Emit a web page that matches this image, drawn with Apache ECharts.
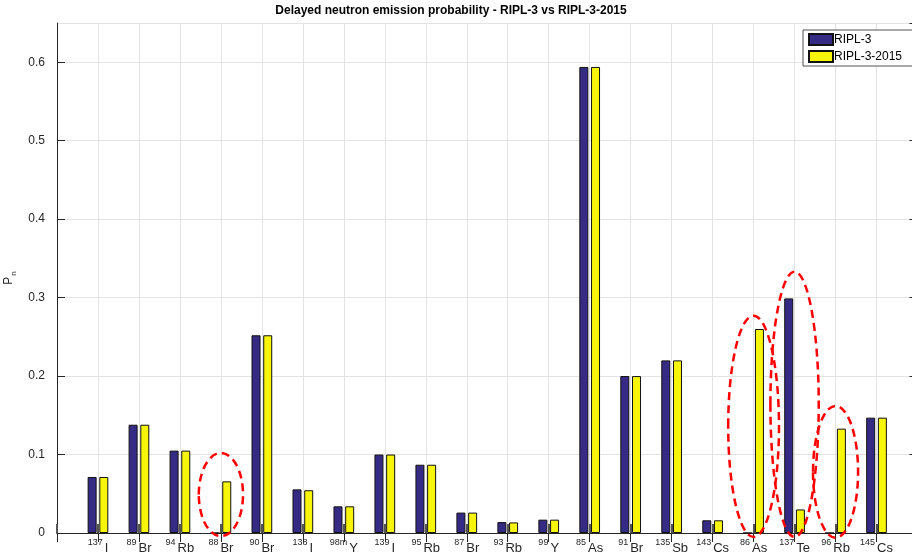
<!DOCTYPE html>
<html>
<head>
<meta charset="utf-8">
<script src="https://cdn.jsdelivr.net/npm/echarts@6/dist/echarts.min.js"></script>
<style>
  html, body { margin: 0; padding: 0; background: #fff; }
  #chart { width: 912px; height: 556px; }
</style>
</head>
<body>
<div id="chart"></div>
<script>
// Precursor nuclides: mass number (superscript) and element symbol
const massNumbers = ['137', '89', '94', '88', '90', '138', '98m', '139', '95', '87',
                     '93', '99', '85', '91', '135', '143', '86', '137', '96', '145'];
const elements    = ['I', 'Br', 'Rb', 'Br', 'Br', 'I', 'Y', 'I', 'Rb', 'Br',
                     'Rb', 'Y', 'As', 'Br', 'Sb', 'Cs', 'As', 'Te', 'Rb', 'Cs'];

// Delayed neutron emission probabilities
const ripl3     = [0.0714, 0.138, 0.105, 0, 0.252, 0.0556, 0.034, 0.100, 0.087, 0.026,
                   0.0139, 0.017, 0.594, 0.200, 0.220, 0.0162, 0, 0.299, 0, 0.147];
const ripl32015 = [0.0714, 0.138, 0.105, 0.0658, 0.252, 0.0545, 0.034, 0.100, 0.087, 0.026,
                   0.0135, 0.017, 0.594, 0.200, 0.220, 0.0162, 0.260, 0.0300, 0.133, 0.147];

// Y axis ticks
const yTicks = [0, 0.1, 0.2, 0.3, 0.4, 0.5, 0.6];

// Highlighted changes: nuclide index, centre value, half width (categories), half height (value)
const highlightIdx = [3, 16, 17, 18];
const highlightCy  = [0.049, 0.136, 0.164, 0.078];
const highlightRx  = [0.54, 0.62, 0.59, 0.55];
const highlightRy  = [0.053, 0.141, 0.169, 0.084];

// One empty slot on each side so the bars sit one full step from the frame
const categories = [''].concat(massNumbers.map((m, i) => m + '|' + elements[i]), ['']);
const pad = arr => [null].concat(arr, [null]);

const axisColor = '#262626';
const font = '"Liberation Sans", Arial, sans-serif';
const chart = echarts.init(document.getElementById('chart'), null, { renderer: 'canvas' });

const option = {
  animation: false,
  backgroundColor: '#ffffff',
  graphic: [{
    type: 'text', x: 451, y: 11, z: 10,
    style: {
      text: 'Delayed neutron emission probability - RIPL-3 vs RIPL-3-2015',
      font: 'bold 12px ' + font,
      fill: '#000', textAlign: 'center', textVerticalAlign: 'middle'
    }
  }],
  legend: {
    left: 803, top: 30,
    orient: 'vertical',
    itemWidth: 24, itemHeight: 11, itemGap: 4,
    padding: [3, 12, 3, 5],
    borderColor: axisColor, borderWidth: 0.8,
    backgroundColor: '#fff',
    icon: 'rect',
    textStyle: { fontFamily: font, fontSize: 12, color: '#000', padding: [0, 0, 0, -4] },
    data: ['RIPL-3', 'RIPL-3-2015']
  },
  grid: { left: 57, right: -5.5, top: 23, bottom: 23, containLabel: false, outerBoundsMode: 'none' },
  xAxis: [{
    type: 'category',
    data: categories,
    boundaryGap: false,
    axisLine: { show: true, lineStyle: { color: '#4d4d4d', width: 1.2 } },
    axisTick: { show: true, inside: true, length: 9, interval: 0, lineStyle: { color: '#555', width: 2 } },
    splitLine: { show: true, interval: 0, lineStyle: { color: '#e3e3e3', width: 1 } },
    axisLabel: {
      interval: 0, margin: 5,
      formatter: v => {
        if (!v) return '';
        const [m, e] = v.split('|');
        return '{s|' + m + '}{e|' + e + '}';
      },
      rich: {
        s: { fontSize: 9, lineHeight: 11, verticalAlign: 'top', color: axisColor,
             fontFamily: font, padding: [0, 2, 0, 0] },
        e: { fontSize: 13, lineHeight: 17, verticalAlign: 'bottom', color: axisColor,
             fontFamily: font }
      }
    }
  }, {
    type: 'category',
    data: categories,
    boundaryGap: false,
    position: 'top',
    axisLine: { show: true, lineStyle: { color: axisColor, width: 1 } },
    axisTick: { show: true, inside: true, length: 9, interval: 0, lineStyle: { color: axisColor, width: 1 } },
    axisLabel: { show: false },
    splitLine: { show: false }
  }],
  yAxis: [{
    type: 'value',
    min: 0, max: 0.65, interval: 0.1,
    name: '{p|P}{n|n}',
    nameLocation: 'middle', nameRotate: 90, nameGap: 38,
    nameTextStyle: {
      rich: {
        p: { fontSize: 12, lineHeight: 15, color: axisColor, fontFamily: font, verticalAlign: 'top' },
        n: { fontSize: 8, lineHeight: 9, color: axisColor, fontFamily: font, verticalAlign: 'bottom', padding: [0, 0, 0, 1] }
      }
    },
    axisLine: { show: true, lineStyle: { color: axisColor, width: 1 } },
    axisTick: { show: true, inside: true, length: 8, lineStyle: { color: axisColor } },
    splitLine: { show: true, lineStyle: { color: '#e3e3e3', width: 1 } },
    axisLabel: {
      margin: 12, color: axisColor, fontSize: 12,
      fontFamily: font,
      showMaxLabel: false,
      formatter: v => {
        const t = yTicks.find(k => Math.abs(k - v) < 1e-9);
        return t === undefined ? '' : String(t);
      }
    }
  }, {
    type: 'value', position: 'right',
    min: 0, max: 0.65, interval: 0.1,
    axisLine: { show: true, lineStyle: { color: axisColor } },
    axisTick: { show: true, inside: true, length: 8 },
    axisLabel: { show: false },
    splitLine: { show: false }
  }],
  series: [{
    name: 'RIPL-3',
    type: 'bar',
    data: pad(ripl3),
    barWidth: 9, barGap: '30%',
    itemStyle: { color: '#352b85', borderColor: '#111', borderWidth: 1 },
    z: 3
  }, {
    name: 'RIPL-3-2015',
    type: 'bar',
    data: pad(ripl32015),
    barWidth: 9, barGap: '30%',
    itemStyle: { color: '#f7f50a', borderColor: '#111', borderWidth: 1 },
    z: 3
  }]
};

chart.setOption(option);

// Dashed red ellipses around the nuclides whose values changed
function drawHighlights() {
  const els = highlightIdx.map((idx, k) => {
    const c = chart.convertToPixel({ gridIndex: 0 }, [idx + 1, highlightCy[k]]);
    const a = chart.convertToPixel({ gridIndex: 0 }, [idx + 2, highlightCy[k] + highlightRy[k]]);
    const stepX = a[0] - c[0];
    return {
      type: 'ellipse', z: 20, silent: true,
      shape: { cx: c[0], cy: c[1], rx: highlightRx[k] * stepX, ry: c[1] - a[1] },
      style: { fill: null, stroke: '#ff0000', lineWidth: 2.5, lineDash: [8, 5] }
    };
  });
  chart.setOption({ graphic: option.graphic.concat(els) });
}
drawHighlights();
</script>
</body>
</html>
